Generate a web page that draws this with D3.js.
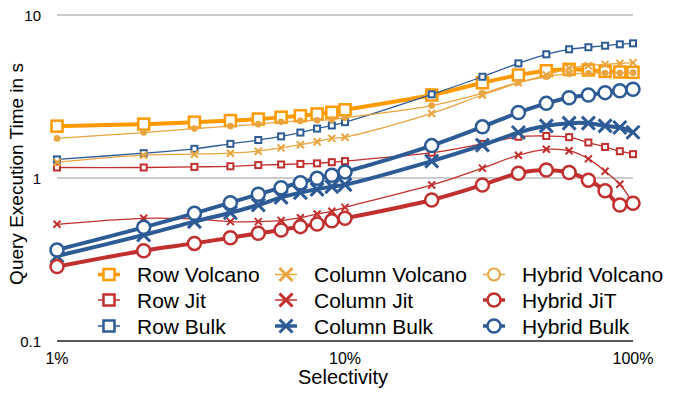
<!DOCTYPE html>
<html>
<head>
<meta charset="utf-8">
<script src="https://cdn.jsdelivr.net/npm/d3@7"></script>
<style>
  body { margin: 0; background: #fff; }
  svg { display: block; font-family: "Liberation Sans", Arial, sans-serif; }
</style>
</head>
<body>
<svg id="chart" width="676" height="394"></svg>
<script>
// selectivity in percent
const selectivity = [1, 2, 3, 4, 5, 6, 7, 8, 9, 10, 20, 30, 40, 50, 60, 70, 80, 90, 100];

// query execution time in seconds
const rowVolcano = [2.08, 2.14, 2.2, 2.25, 2.3, 2.36, 2.41, 2.47, 2.53, 2.62, 3.23, 3.84, 4.28, 4.55, 4.64, 4.6, 4.51, 4.47, 4.45];
const rowJit = [1.16, 1.16, 1.17, 1.18, 1.2, 1.21, 1.22, 1.23, 1.25, 1.27, 1.43, 1.62, 1.79, 1.81, 1.78, 1.65, 1.55, 1.46, 1.4];
const rowBulk = [1.3, 1.42, 1.51, 1.62, 1.71, 1.8, 1.9, 2.01, 2.1, 2.2, 3.26, 4.18, 5.05, 5.74, 6.16, 6.34, 6.48, 6.61, 6.7];
const columnVolcano = [1.25, 1.38, 1.4, 1.42, 1.46, 1.53, 1.6, 1.67, 1.75, 1.78, 2.49, 3.23, 3.84, 4.28, 4.71, 4.89, 4.98, 5.05, 5.1];
const columnJit = [0.52, 0.566, 0.56, 0.54, 0.54, 0.548, 0.571, 0.601, 0.625, 0.66, 0.906, 1.15, 1.38, 1.5, 1.47, 1.31, 1.1, 0.915, 0.7];
const columnBulk = [0.332, 0.447, 0.54, 0.612, 0.683, 0.761, 0.813, 0.852, 0.885, 0.91, 1.27, 1.59, 1.9, 2.09, 2.17, 2.17, 2.09, 2.04, 1.91];
const hybridVolcano = [1.75, 1.9, 2.01, 2.08, 2.14, 2.21, 2.24, 2.26, 2.28, 2.34, 2.78, 3.31, 3.86, 4.18, 4.35, 4.39, 4.41, 4.41, 4.43];
const hybridJit = [0.286, 0.358, 0.397, 0.43, 0.458, 0.48, 0.503, 0.522, 0.547, 0.566, 0.733, 0.906, 1.07, 1.12, 1.08, 0.97, 0.836, 0.683, 0.7];
const hybridBulk = [0.362, 0.498, 0.607, 0.706, 0.794, 0.872, 0.936, 0.995, 1.04, 1.09, 1.58, 2.06, 2.52, 2.87, 3.11, 3.23, 3.34, 3.43, 3.5];

const xTicks = [1, 10, 100];
const xTickLabels = ["1%", "10%", "100%"];
const yTicks = [0.1, 1, 10];
const yTickLabels = ["0.1", "1", "10"];

const ORANGE = "#ff9a00";
const LIGHT_ORANGE = "#eaa540";
const RED = "#c1302e";
const BLUE = "#2d5b96";

// legend order, column by column
const series = [
  { name: "Row Volcano", values: rowVolcano, color: ORANGE, marker: "square", thick: true },
  { name: "Row Jit", values: rowJit, color: RED, marker: "square", thick: false },
  { name: "Row Bulk", values: rowBulk, color: BLUE, marker: "square", thick: false },
  { name: "Column Volcano", values: columnVolcano, color: LIGHT_ORANGE, marker: "cross", thick: false },
  { name: "Column Jit", values: columnJit, color: RED, marker: "cross", thick: false },
  { name: "Column Bulk", values: columnBulk, color: BLUE, marker: "cross", thick: true },
  { name: "Hybrid Volcano", values: hybridVolcano, color: LIGHT_ORANGE, marker: "circle", thick: false },
  { name: "Hybrid JiT", values: hybridJit, color: RED, marker: "circle", thick: true },
  { name: "Hybrid Bulk", values: hybridBulk, color: BLUE, marker: "circle", thick: true },
];

var svg = d3.select("#chart");

var x = d3.scaleLog().domain([1, 100]).range([57, 633]);
var y = d3.scaleLog().domain([0.1, 10]).range([341, 15]);

// gridlines (bottom one is the axis)
svg.append("g")
  .selectAll("line")
  .data(yTicks)
  .enter()
  .append("line")
  .attr("x1", x(1))
  .attr("x2", x(100))
  .attr("y1", (d) => y(d))
  .attr("y2", (d) => y(d))
  .attr("stroke", (d) => (d === 0.1 ? "#222" : "#bcbcbc"))
  .attr("stroke-width", 1.5);

// y tick labels
svg.append("g")
  .selectAll("text")
  .data(yTicks)
  .enter()
  .append("text")
  .attr("x", 41)
  .attr("y", (d) => y(d) + 5.5)
  .attr("text-anchor", "end")
  .attr("font-size", 15)
  .text((d, i) => yTickLabels[i]);

// x tick labels
svg.append("g")
  .selectAll("text")
  .data(xTicks)
  .enter()
  .append("text")
  .attr("x", (d) => x(d))
  .attr("y", 364)
  .attr("text-anchor", "middle")
  .attr("font-size", 16)
  .text((d, i) => xTickLabels[i]);

// axis titles
svg.append("text")
  .attr("x", 343)
  .attr("y", 384)
  .attr("text-anchor", "middle")
  .attr("font-size", 20)
  .text("Selectivity");

svg.append("text")
  .attr("transform", "translate(23,174) rotate(-90)")
  .attr("text-anchor", "middle")
  .attr("font-size", 19)
  .text("Query Execution Time in s");

// draw one marker into a group centered at 0,0
function addMarker(g, s, big) {
  var size, sw;
  if (s.marker === "square") {
    size = big ? 11 : 6;
    sw = big ? 2.5 : 2;
    g.append("rect")
      .attr("x", -size / 2)
      .attr("y", -size / 2)
      .attr("width", size)
      .attr("height", size)
      .attr("fill", "#fff")
      .attr("stroke", s.color)
      .attr("stroke-width", sw);
  } else if (s.marker === "cross") {
    size = big ? 6.5 : 3.5;
    sw = big ? 3 : 2;
    g.append("path")
      .attr("d", `M${-size},${-size}L${size},${size}M${-size},${size}L${size},${-size}`)
      .attr("fill", "none")
      .attr("stroke", s.color)
      .attr("stroke-width", sw);
  } else {
    if (big) {
      g.append("circle")
        .attr("r", 6.5)
        .attr("fill", "#fff")
        .attr("stroke", s.color)
        .attr("stroke-width", 2.5);
    } else {
      g.append("circle")
        .attr("r", 3.3)
        .attr("fill", s.color);
    }
  }
}

var line = d3
  .line()
  .x((d) => x(d.sel))
  .y((d) => y(d.val))
  .curve(d3.curveCatmullRom.alpha(0.5));

var plot = svg.append("g");

series.forEach(function (s) {
  var pts = selectivity.map((sel, i) => ({ sel: sel, val: s.values[i] }));
  var g = plot.append("g");

  g.append("path")
    .attr("d", line(pts))
    .attr("fill", "none")
    .attr("stroke", s.color)
    .attr("stroke-width", s.thick ? 4 : 1.3);

  g.selectAll(".pt")
    .data(pts)
    .enter()
    .append("g")
    .attr("class", "pt")
    .attr("transform", (d) => "translate(" + x(d.sel) + "," + y(d.val) + ")")
    .each(function () {
      addMarker(d3.select(this), s, s.thick);
    });
});

// legend, 3 columns x 3 rows
var legendX = [109, 286, 494];
var legendY = [274.5, 300, 326];

var legend = svg.append("g");
series.forEach(function (s, i) {
  var col = Math.floor(i / 3);
  var row = i % 3;
  var item = legend.append("g")
    .attr("transform", "translate(" + legendX[col] + "," + legendY[row] + ")");

  item.append("line")
    .attr("x1", -11)
    .attr("x2", 11)
    .attr("stroke", s.color)
    .attr("stroke-width", s.thick ? 3.5 : 1.5);

  var m = item.append("g");
  if (s.marker === "circle" && !s.thick) {
    m.append("circle")
      .attr("r", 6)
      .attr("fill", "#fff")
      .attr("stroke", s.color)
      .attr("stroke-width", 2);
  } else {
    addMarker(m, s, true);
  }

  item.append("text")
    .attr("x", 28)
    .attr("y", 7.5)
    .attr("font-size", 21)
    .text(s.name);
});
</script>
</body>
</html>
